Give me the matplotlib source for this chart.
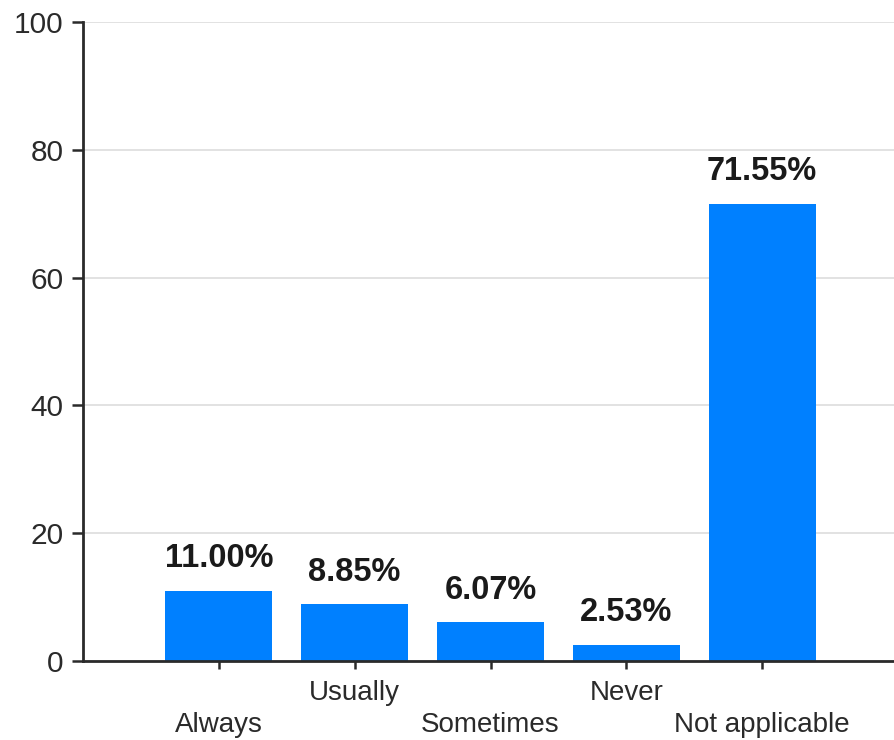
import matplotlib.pyplot as plt

categories = ['Always', 'Usually', 'Sometimes', 'Never', 'Not applicable']
values = [11.00, 8.85, 6.07, 2.53, 71.55]
value_labels = ['11.00%', '8.85%', '6.07%', '2.53%', '71.55%']
yticks = [0, 20, 40, 60, 80, 100]

plt.rcParams['font.family'] = ['Liberation Sans', 'DejaVu Sans']

fig = plt.figure(figsize=(8.94, 7.4), dpi=100)
ax = fig.add_axes([0.0928, 0.1068, 0.9072, 0.8635])

x = list(range(len(categories)))
ax.bar(x, values, width=0.787, color='#0080ff', zorder=3)

# value labels above bars
for xi, v, lab in zip(x, values, value_labels):
    ax.annotate(lab, (xi, v), xytext=(0, 12), textcoords='offset points',
                ha='center', va='bottom', fontsize=23.5, fontweight='bold',
                color='#1a1a1a')

ax.set_xlim(-1.0, 4.97)
ax.set_ylim(0, 100)
ax.set_yticks(yticks)
ax.grid(axis='y', color='#dddddd', linewidth=1.2, zorder=0)

# staggered category labels
ticklabels = []
for i, c in enumerate(categories):
    ticklabels.append(c + '\n' if i % 2 else '\n' + c)
ax.set_xticks(x)
ax.set_xticklabels(ticklabels, fontsize=20, color='#2a2a2a', linespacing=1.3)

ax.tick_params(axis='y', labelsize=21.5, colors='#2a2a2a', length=8, width=1.8, pad=6)
ax.tick_params(axis='x', length=6, width=1.8, pad=8, colors='#2a2a2a')
for lab in ax.get_xticklabels():
    lab.set_color('#2a2a2a')

for s in ['top', 'right']:
    ax.spines[s].set_visible(False)
for s in ['left', 'bottom']:
    ax.spines[s].set_linewidth(2)
    ax.spines[s].set_color('#2a2a2a')
    ax.spines[s].set_zorder(4)

fig.savefig('out.png', dpi=100)
